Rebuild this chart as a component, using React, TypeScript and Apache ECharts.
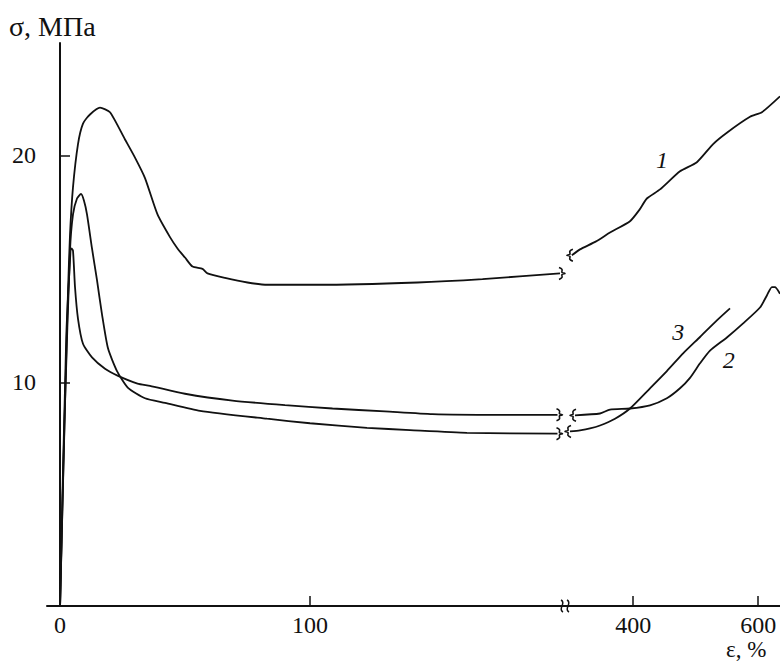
import React, { useEffect, useRef } from "react";
import * as echarts from "echarts";

// Strain ε, % (left segment 0…~200, right segment ~290…635) and stress σ, MPa
const curve1Left: [number, number][] = [
  [0, 0], [1.5, 7], [3.2, 14], [4, 16.5], [5.2, 18.6], [7.2, 20.5], [9.2, 21.4], [12, 21.8],
  [16, 22.1], [20, 21.9], [26, 20.7], [30, 19.9], [34, 19.0], [39, 17.4], [44, 16.4],
  [47, 15.9], [50, 15.5], [53, 15.1], [57, 15.0], [59, 14.8], [66, 14.6], [75, 14.4],
  [83, 14.3], [103, 14.3], [143, 14.4], [169, 14.55], [200, 14.8],
];
const curve1Right: [number, number][] = [
  [302, 15.6], [315, 15.86], [340, 16.2], [363, 16.6], [395, 17.1], [410, 17.6], [422, 18.1],
  [443, 18.5], [475, 19.3], [502, 19.7], [528, 20.5], [550, 21.0], [587, 21.7], [606, 21.9],
  [635, 22.6],
];
const curve2Left: [number, number][] = [
  [0, 0], [2.5, 12], [4.6, 15.9], [5.2, 15.8], [6, 14.2], [7.2, 12.8], [9.2, 11.7],
  [12.8, 11.1], [18, 10.6], [23, 10.3], [31, 9.95], [36, 9.85], [50, 9.5], [69, 9.2],
  [90, 9.0], [109, 8.85], [130, 8.72], [149, 8.6], [175, 8.57], [199, 8.57],
];
const curve2Right: [number, number][] = [
  [307, 8.55], [347, 8.63], [363, 8.8], [395, 8.85], [427, 8.99], [454, 9.3], [475, 9.74],
  [491, 10.2], [507, 10.84], [523, 11.4], [550, 11.98], [576, 12.6], [603, 13.3],
  [614, 13.83], [622, 14.2], [627, 14.2], [635, 13.9],
];
const curve3Left: [number, number][] = [
  [0, 0], [2, 9], [4, 15.8], [5.2, 17.4], [6.8, 18.1], [8.4, 18.3], [9.6, 18.0], [10.8, 17.4],
  [12.8, 15.9], [14.8, 14.5], [16.8, 13.0], [19.2, 11.5], [22.8, 10.5], [27.2, 9.76],
  [34, 9.3], [42, 9.1], [56, 8.75], [82.8, 8.4], [100, 8.2], [122.8, 8.0], [140, 7.9],
  [162.8, 7.78], [199, 7.74],
];
const curve3Right: [number, number][] = [
  [299, 7.84], [315, 7.89], [331, 7.97], [347, 8.1], [371, 8.4], [395, 8.85], [427, 9.74],
  [454, 10.5], [480, 11.28], [507, 12.0], [534, 12.73], [555, 13.26],
];

const xTicksLeft = [0, 100];
const xTicksRight = [400, 600];
const yTicks = [10, 20];
const curveLabels = [
  { text: "1", x: 446, y: 19.8 },
  { text: "3", x: 472, y: 12.2 },
  { text: "2", x: 553, y: 11.0 },
];

const FONT = '"Liberation Serif", "Times New Roman", serif';
const INK = "#111";

export default function App() {
  const ref = useRef<HTMLDivElement>(null);

  useEffect(() => {
    if (!ref.current) return;
    const chart = echarts.init(ref.current, undefined, { renderer: "svg" });

    const lineSeries = (data: [number, number][], idx: number) => ({
      type: "line",
      xAxisIndex: idx,
      yAxisIndex: idx,
      data,
      showSymbol: false,
      symbol: "none",
      smooth: 0.2,
      lineStyle: { color: INK, width: 1.8 },
      silent: true,
    });

    const axisCommon = {
      axisLine: { show: true, lineStyle: { color: INK, width: 2 } },
      axisTick: { show: true, inside: true, length: 10, lineStyle: { color: INK, width: 1.5 } },
      axisLabel: { color: INK, fontFamily: FONT, fontSize: 24 },
      splitLine: { show: false },
    };

    chart.setOption({
      animation: false,
      backgroundColor: "#fff",
      grid: [
        { left: 47, right: 215, top: 43, bottom: 58 },
        { left: 565, right: 0, top: 43, bottom: 58 },
      ],
      xAxis: [
        {
          type: "value", gridIndex: 0, min: -5.2, max: 202,
          ...axisCommon,
          axisTick: { ...axisCommon.axisTick, customValues: xTicksLeft },
          axisLabel: { ...axisCommon.axisLabel, customValues: xTicksLeft, margin: 7 },
        },
        {
          type: "value", gridIndex: 1, min: 291, max: 635,
          ...axisCommon,
          axisTick: { ...axisCommon.axisTick, customValues: xTicksRight },
          axisLabel: { ...axisCommon.axisLabel, customValues: xTicksRight, margin: 7 },
        },
      ],
      yAxis: [
        {
          type: "value", gridIndex: 0, min: 0.15, max: 24.95,
          ...axisCommon,
          axisTick: { ...axisCommon.axisTick, customValues: yTicks },
          axisLabel: { ...axisCommon.axisLabel, customValues: yTicks, margin: 11 },
        },
        {
          type: "value", gridIndex: 1, min: 0.15, max: 24.95,
          axisLine: { show: false }, axisTick: { show: false },
          axisLabel: { show: false }, splitLine: { show: false },
        },
      ],
      series: [
        lineSeries(curve1Left, 0),
        lineSeries(curve2Left, 0),
        lineSeries(curve3Left, 0),
        lineSeries(curve1Right, 1),
        lineSeries(curve2Right, 1),
        lineSeries(curve3Right, 1),
      ],
    });

    const px = (idx: number, p: [number, number]) =>
      chart.convertToPixel({ xAxisIndex: idx, yAxisIndex: idx }, p) as number[];

    const graphics: any[] = [
      {
        type: "text", left: 9, top: 12,
        style: { text: "σ, МПа", font: `28px ${FONT}`, fill: INK },
      },
      {
        type: "text", left: 726, top: 638,
        style: { text: "ε, %", font: `23px ${FONT}`, fill: INK },
      },
    ];

    curveLabels.forEach((l) => {
      const [x, y] = px(1, [l.x, l.y]);
      graphics.push({
        type: "text", x, y,
        style: {
          text: l.text, font: `italic 24px ${FONT}`, fill: INK,
          align: "center", verticalAlign: "middle",
        },
      });
    });

    // break squiggles on the curves
    const squiggle = (x: number, y: number, dir: number) => ({
      type: "polyline",
      shape: {
        points: [
          [x - 2 * dir, y - 6], [x + 1 * dir, y - 4], [x + 1 * dir, y - 1], [x + 4 * dir, y],
          [x + 1 * dir, y + 1], [x + 1 * dir, y + 4], [x - 2 * dir, y + 6],
        ],
        smooth: 0.4,
      },
      style: { stroke: INK, lineWidth: 1.6, fill: "none" },
    });
    [curve1Left, curve2Left, curve3Left].forEach((c) => {
      const [x, y] = px(0, c[c.length - 1]);
      graphics.push(squiggle(x + 1, y, 1));
    });
    [curve1Right, curve2Right, curve3Right].forEach((c) => {
      const [x, y] = px(1, c[0]);
      graphics.push(squiggle(x - 1, y, -1));
    });

    // axis break mark
    const [bx, by] = px(1, [291, 0.15]);
    graphics.push({
      type: "rect",
      shape: { x: bx - 3, y: by - 2, width: 6, height: 4 },
      style: { fill: "#fff" },
    });
    [-3, 3].forEach((dx) => {
      graphics.push({
        type: "bezierCurve",
        shape: {
          x1: bx + dx - 1, y1: by - 6, x2: bx + dx + 1, y2: by + 6,
          cpx1: bx + dx + 5, cpy1: by - 3, cpx2: bx + dx - 5, cpy2: by + 3,
        },
        style: { stroke: INK, lineWidth: 1.5, fill: "none" },
      });
    });

    chart.setOption({ graphic: graphics });

    return () => chart.dispose();
  }, []);

  return (
    <div
      ref={ref}
      style={{ position: "fixed", left: 0, top: 0, width: 780, height: 664, background: "#fff" }}
    />
  );
}
